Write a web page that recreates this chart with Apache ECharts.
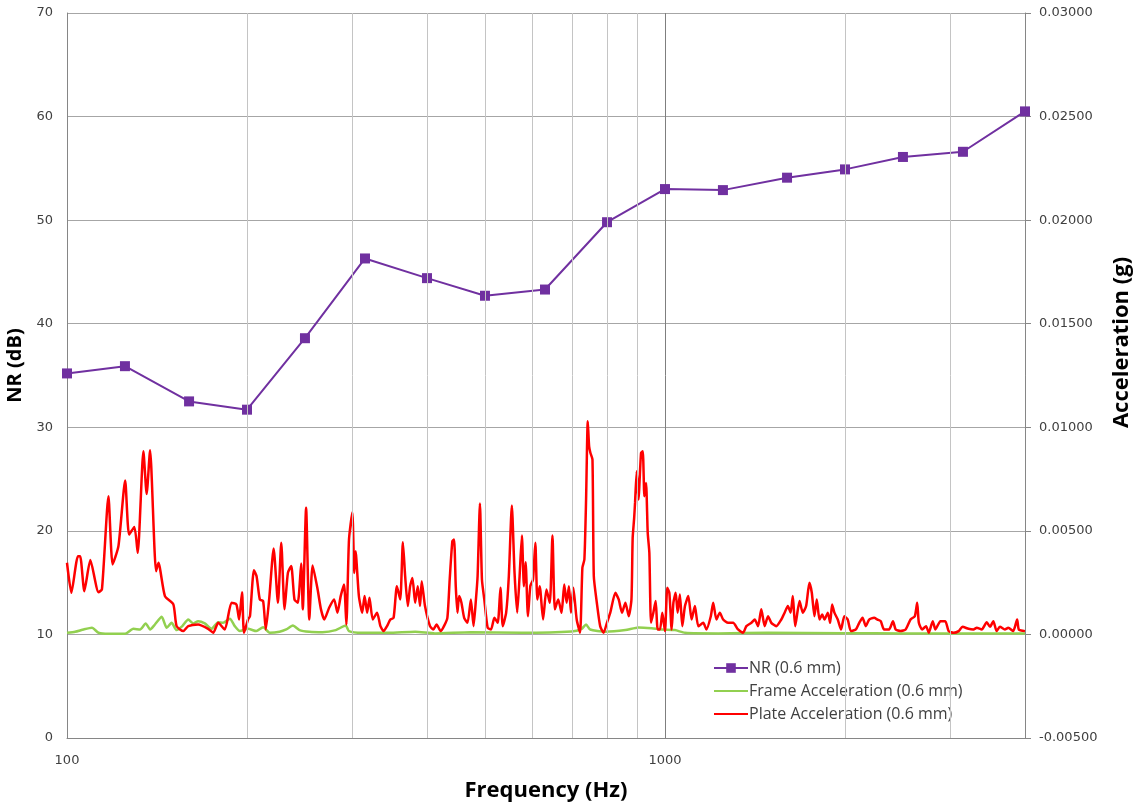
<!DOCTYPE html>
<html>
<head>
<meta charset="utf-8">
<script src="https://cdn.jsdelivr.net/npm/echarts@6.0.0/dist/echarts.min.js"></script>
<style>
html,body{margin:0;padding:0;background:#fff;}
#c{width:1148px;height:807px;}
</style>
</head>
<body>
<div id="c"></div>
<script>
// ---- Data ----
const nrFreq = [100,125,160,200,250,315,400,500,630,800,1000,1250,1600,2000,2500,3150,4000];
const nrValues = [35.2,35.9,32.5,31.7,38.6,46.3,44.4,42.7,43.3,49.8,53.0,52.9,54.1,54.9,56.1,56.6,60.5];

const frameFreq = [100,103.2,106.6,110.1,112.9,117.3,125.1,129.1,132.5,135.4,137.7,140.3,144.0,146.8,149.6,152.5,155.9,159.5,162.6,165.7,170.0,174.4,179.0,182.4,187.2,190.8,194.5,200.8,207.3,212.8,218.3,226.7,232.6,238.6,244.8,254.2,267.5,281.5,292.5,296.2,311.7,345.1,382.1,412.4,473.6,575,698,725.6,738,749.5,794,858.7,902.8,950,987,1039,1080,1227,1487,2000,2500,3000,4000];
const frameAcc = [0.00008,0.00013,0.00024,0.00032,0.00008,0.00003,0.00003,0.00027,0.00024,0.00053,0.00024,0.00048,0.00085,0.00032,0.00056,0.00021,0.00040,0.00072,0.00053,0.00064,0.00053,0.00027,0.00059,0.00056,0.00076,0.00040,0.00016,0.00027,0.00016,0.00035,0.00008,0.00013,0.00024,0.00043,0.00021,0.00013,0.00011,0.00021,0.00043,0.00016,0.00008,0.00008,0.00013,0.00005,0.00011,0.00008,0.00014,0.00027,0.00048,0.00024,0.00013,0.00021,0.00034,0.00030,0.00024,0.00021,0.00008,0.00005,0.00008,0.00006,0.00005,0.00004,0.00004];

const plateFreq = [100,101.7,104.3,105.2,106.9,109.4,112.9,114.4,117.3,119.2,121.9,125.1,127.0,129.6,131.3,134.2,135.9,137.7,140.9,142.2,145.8,150.6,152.5,156.5,159.5,165.7,172.2,175.6,179.0,183.6,188.4,192.0,194.0,196.2,197.7,200.8,202.3,
205.4,207.5,210.1,212.8,215.0,217.8,221.6,225.3,228.2,231.1,234.1,237.1,240.1,243.2,246.4,247.9,251.1,254.2,257.5,262.5,265.9,269.3,274.4,279.7,283.3,286.9,290.6,293.2,296.2,300.0,302.3,303.8,307.7,311.7,314.5,317.7,320.5,324.6,330.0,334.3,338.5,342.9,347.3,351.7,356.2,360.8,364.5,367.7,371.5,374.8,378.2,382.1,386.0,389.4,391.9,396.9,404.6,409.8,415.0,
421.5,427.0,432.6,436.5,441.0,443.9,446.8,449.7,452.6,456.7,461.5,467.5,473.6,478.5,482.9,486.0,490.4,494.2,498.7,505.2,511.8,518.5,525.2,530.7,535.5,542.5,548.1,554.5,560.3,566.1,571.3,576.4,580.9,584.7,590.0,595.4,601.6,607.0,611.7,617.3,625.4,633.5,641.8,648.4,654.4,662.9,671.5,678.5,684.7,690.9,696.2,702.6,711.8,721.0,727.6,733.2,738.0,742.8,746.7,750.5,756.4,760.3,769.2,779.2,789.4,799.7,810.1,826.0,836.7,847.6,858.7,869.8,878.9,883.0,888.0,891.1,896.9,
902.8,912.0,918.0,923.8,929.7,935.7,941.6,947.7,956.2,964.8,972.3,981.0,989.8,1000,1009,1017,1026,1033,1042,1050,1059,1069,1080,1094,1108,1122,1137,1159,1173,1193,1204,1219,1235,1251,1275,1300,1325,1351,1368,1395,1413,1431,1449,1468,1487,1506,1535,1565,1585,1605,1622,1636,1651,1679,1700,1722,1744,1760,1778,1794,
1813,1832,1848,1872,1889,1903,1920,1945,1970,1995,2021,2046,2086,2113,2140,2167,2195,2237,2266,2295,2325,2370,2406,2431,2478,2526,2574,2617,2641,2658,2692,2733,2761,2804,2833,2888,2943,2981,3039,3098,3145,3218,3280,3322,3386,3452,3496,3541,3586,3632,3702,3750,3822,3881,3906,4000];
const plateAcc = [0.00346,0.00201,0.00378,0.00378,0.00209,0.00359,0.00204,0.00217,0.00667,0.00338,0.00426,0.00743,0.00482,0.00519,0.00394,0.00884,0.00678,0.00889,0.00305,0.00346,0.00185,0.00145,0.00040,0.00016,0.00040,0.00048,0.00027,0.00008,0.00056,0.00024,0.00153,0.00145,0.00072,0.00204,0.00008,0.00072,0.00088,
0.00310,0.00281,0.00169,0.00161,0.00024,0.00169,0.00415,0.00153,0.00442,0.00121,0.00297,0.00330,0.00169,0.00153,0.00342,0.00121,0.00611,0.00072,0.00333,0.00217,0.00121,0.00072,0.00129,0.00169,0.00105,0.00185,0.00241,0.00048,0.00458,0.00590,0.00297,0.00402,0.00185,0.00105,0.00185,0.00105,0.00177,0.00072,0.00105,0.00040,0.00016,0.00040,0.00072,0.00080,0.00233,0.00169,0.00445,0.00281,0.00137,0.00233,0.00273,0.00153,0.00233,0.00137,0.00257,0.00137,0.00040,0.00024,0.00048,
0.00016,0.00040,0.00080,0.00265,0.00450,0.00458,0.00233,0.00105,0.00185,0.00153,0.00080,0.00056,0.00169,0.00040,0.00169,0.00281,0.00632,0.00265,0.00169,0.00032,0.00024,0.00080,0.00056,0.00225,0.00040,0.00105,0.00281,0.00622,0.00297,0.00105,0.00281,0.00477,0.00233,0.00349,0.00088,0.00233,0.00265,0.00442,0.00169,0.00233,0.00072,0.00217,0.00153,0.00477,0.00121,0.00169,0.00105,0.00241,0.00153,0.00233,0.00105,0.00225,0.00072,0.00008,0.00322,0.00362,0.00651,0.01029,0.00908,0.00876,0.00844,0.00281,0.00153,0.00040,0.00008,0.00056,0.00105,0.00201,0.00169,0.00105,0.00153,0.00088,0.00169,0.00466,0.00560,0.00635,0.00788,
0.00651,0.00876,0.00884,0.00667,0.00731,0.00490,0.00394,0.00056,0.00105,0.00161,0.00024,0.00024,0.00105,0.00016,0.00225,0.00201,0.00024,0.00153,0.00201,0.00105,0.00193,0.00040,0.00137,0.00185,0.00072,0.00137,0.00040,0.00056,0.00024,0.00088,0.00153,0.00072,0.00105,0.00072,0.00056,0.00056,0.00024,0.00008,0.00040,0.00056,0.00072,0.00040,0.00121,0.00040,0.00088,0.00056,0.00040,0.00072,0.00105,0.00137,0.00105,0.00185,0.00040,0.00161,0.00105,0.00137,0.00249,0.00201,0.00088,0.00169,
0.00072,0.00096,0.00072,0.00105,0.00056,0.00145,0.00105,0.00072,0.00024,0.00088,0.00072,0.00016,0.00024,0.00056,0.00080,0.00040,0.00072,0.00080,0.00072,0.00064,0.00024,0.00024,0.00064,0.00024,0.00016,0.00024,0.00072,0.00088,0.00153,0.00056,0.00024,0.00040,0.00008,0.00064,0.00024,0.00064,0.00064,0.00016,0.00008,0.00016,0.00037,0.00027,0.00024,0.00032,0.00024,0.00059,0.00037,0.00064,0.00016,0.00037,0.00024,0.00032,0.00016,0.00072,0.00024,0.00016];

const minorGridFreqs = [200,300,400,500,600,700,800,900,2000,3000];
const xLabelValues = [100,1000];
const seriesNames = ['NR (0.6 mm)','Frame Acceleration (0.6 mm)','Plate Acceleration (0.6 mm)'];

const zip = (a,b) => a.map((v,i)=>[v,b[i]]);
const lineIcon = 'path://M0,0 M0,5 L34,5 L34,7 L0,7 Z M34,12';

const titleFont = {fontFamily:'Open Sans', fontWeight:'bold', fontSize:22, color:'#000'};
const tickFont = {fontFamily:'DejaVu Sans', fontSize:13, color:'#404040'};
const chart = echarts.init(document.getElementById('c'), null, {renderer:'canvas'});
chart.setOption({
  animation:false,
  textStyle:{fontFamily:'DejaVu Sans'},
  grid:{left:67,right:123,top:13,bottom:69, containLabel:false, outerBoundsMode:'none'},
  legend:{
    orient:'vertical', left:708, top:655, itemWidth:34, itemHeight:12, itemGap:7,
    textStyle:{fontFamily:'Open Sans', fontSize:16, color:'#404040', padding:[0,0,0,-4]},
    data:[
      {name:seriesNames[0]},
      {name:seriesNames[1], icon:lineIcon},
      {name:seriesNames[2], icon:lineIcon}
    ]
  },
  xAxis:{
    type:'log', logBase:10, min:100, max:4000,
    name:'Frequency (Hz)', nameLocation:'middle', nameGap:42, nameTextStyle:titleFont,
    axisLine:{lineStyle:{color:'#868686',width:1}},
    axisTick:{show:false},
    axisLabel:Object.assign({margin:16,
      formatter:v => xLabelValues.some(x=>Math.abs(v-x)<0.5) ? String(Math.round(v)) : ''}, tickFont),
    splitLine:{show:true, lineStyle:{color:'#7f7f7f',width:1}}
  },
  yAxis:[
    {type:'value', min:0, max:70, interval:10, position:'left',
     name:'NR (dB)', nameLocation:'middle', nameGap:42,
     nameTextStyle:Object.assign({}, titleFont, {fontSize:20, padding:[0,0,0,20]}),
     axisLine:{show:true, lineStyle:{color:'#868686'}}, axisTick:{show:false},
     axisLabel:Object.assign({margin:14}, tickFont),
     splitLine:{show:true, lineStyle:{color:'#a6a6a6'}}},
    {type:'value', min:-0.005, max:0.03, interval:0.005, position:'right',
     name:'Acceleration (g)', nameLocation:'middle', nameGap:86,
     nameTextStyle:Object.assign({padding:[0,0,0,66]}, titleFont),
     axisLine:{show:true, lineStyle:{color:'#868686'}},
     axisTick:{show:true, length:6, lineStyle:{color:'#868686'}},
     axisLabel:Object.assign({margin:14, formatter:v=>v.toFixed(5)}, tickFont),
     splitLine:{show:false}}
  ],
  series:[
    {type:'line', name:'gridlines', data:[], z:1, silent:true,
     markLine:{silent:true, symbol:['none','none'], label:{show:false}, animation:false,
       lineStyle:{color:'#c4c4c4', width:1, type:'solid'}, emphasis:{disabled:true},
       data:minorGridFreqs.map(f=>({xAxis:f}))}},
    {type:'line', name:seriesNames[1], yAxisIndex:1, data:zip(frameFreq,frameAcc), symbol:'none', z:2,
     smooth:0.2, lineStyle:{color:'#92d050', width:2.5}, itemStyle:{color:'#92d050'}},
    {type:'line', name:seriesNames[2], yAxisIndex:1, data:zip(plateFreq,plateAcc), symbol:'none', z:3,
     smooth:0.2, lineStyle:{color:'#ff0000', width:2.5}, itemStyle:{color:'#ff0000'}},
    {type:'line', name:seriesNames[0], yAxisIndex:0, data:zip(nrFreq,nrValues), symbol:'rect', symbolSize:10, z:4,
     lineStyle:{color:'#7030a0', width:2}, itemStyle:{color:'#7030a0'}}
  ]
});
</script>
</body>
</html>
